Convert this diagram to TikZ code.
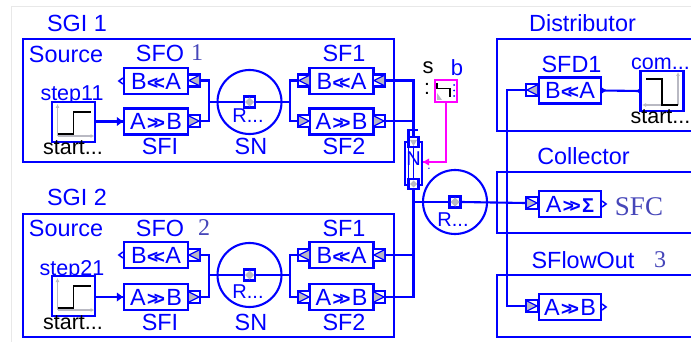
\documentclass[tikz,border=0pt]{standalone}
\usepackage{fontspec}
\setmainfont{Liberation Sans}
\newfontfamily\serifnum{Liberation Serif}
\usetikzlibrary{arrows.meta}
\definecolor{slateb}{RGB}{70,70,185}
\definecolor{pgray}{RGB}{185,185,195}
\definecolor{magw}{RGB}{255,0,255}
\tikzset{
 x=1pt,y=-1pt,
 wire/.style={blue,line width=2.1pt,line join=miter},
 frame/.style={blue,line width=2.2pt},
 lbl/.style={text=blue,inner sep=0pt,font=\fontsize{23.4}{23}\selectfont},
 lblk/.style={text=black,inner sep=0pt,font=\fontsize{21.5}{23}\selectfont},
 lbls/.style={text=blue,inner sep=0pt,font=\fontsize{21.5}{23}\selectfont},
 lblr/.style={text=blue,inner sep=0pt,font=\fontsize{20}{23}\selectfont},
 num/.style={text=slateb,inner sep=0pt,font=\serifnum\fontsize{24}{24}\selectfont},
 block/.style={draw=blue,line width=2.2pt,fill=white,minimum width=64pt,minimum height=26pt,inner sep=0pt,text=blue,font=\fontsize{23.4}{23}\selectfont},
 portbox/.style={draw=blue,line width=2.1pt,fill=white,minimum width=12pt,minimum height=12pt,inner sep=0pt},
 ring/.style={draw=blue,line width=2.1pt,circle,minimum size=64pt,inner sep=0pt},
 stepbox/.style={draw=blue,line width=2.2pt,fill=white,minimum width=43pt,minimum height=40pt,inner sep=0pt},
}
\newcommand{\LL}{{\fontsize{19}{19}\selectfont\bfseries\kern.5pt<\kern-4.5pt<\kern.5pt}}
\newcommand{\RR}{{\fontsize{19}{19}\selectfont\bfseries\kern1.5pt>\kern-4.5pt>\kern1.5pt}}
% port with triangle: name, x, y, dir (+1 apex right, -1 apex left)
\newcommand{\tport}[4]{%
 \node[portbox] (#1) at (#2,#3) {};
 \begin{scope}[shift={(#1.center)}]
  \fill[pgray] (-5*#4,-5) -- (5*#4,0) -- (-5*#4,5) -- cycle;
  \draw[blue,line width=1.2pt] (-5*#4,-5) -- (5*#4,0) -- (-5*#4,5);
 \end{scope}}
% centre port with diamond
\newcommand{\dport}[3]{%
 \node[portbox,minimum width=11pt,minimum height=11pt] (#1) at (#2,#3) {};
 \fill[pgray] (#1.center) ++(-4.5,0) -- ++(4.5,-4.5) -- ++(4.5,4.5) -- ++(-4.5,4.5) -- cycle;}
\newcommand{\intip}[1]{\fill[blue] (#1.west) ++(-6,-4.5) -- ++(6,4.5) -- ++(-6,4.5) -- cycle;}
\newcommand{\outtip}[1]{\draw[blue,line width=1.5pt,fill=white] (#1.west) ++(0,-3) -- ++(-4,3) -- ++(4,3);}
\newcommand{\outtipR}[1]{\draw[blue,line width=1.5pt,fill=white] (#1.east) ++(0,-3) -- ++(4,3) -- ++(-4,3);}
\newcommand{\stepup}[1]{%
 \begin{scope}[shift={(#1.center)}]
  \draw[pgray,line width=1.3pt,-{Latex[length=4pt,width=4pt]}] (-16,14) -- (-16,-18);
  \draw[pgray,line width=1.3pt,-{Latex[length=4pt,width=4pt]}] (-16,14) -- (21,14);
  \draw[black,line width=1.8pt] (-16,12) -- (0,12) -- (0,-10) -- (17,-10);
 \end{scope}}
\newcommand{\stepdn}[1]{%
 \begin{scope}[shift={(#1.center)}]
  \draw[pgray,line width=1.3pt,-{Latex[length=4pt,width=4pt]}] (16,14) -- (16,-19);
  \draw[pgray,line width=1.3pt,-{Latex[length=4pt,width=4pt]}] (16,14) -- (-20,14);
  \draw[black,line width=1.8pt] (-16,-12) -- (0,-12) -- (0,14) -- (16,14);
 \end{scope}}
\begin{document}
\begin{tikzpicture}
\useasboundingbox (0,0) rectangle (691,342);
\fill[white] (0,0) rectangle (691,342);
\draw[black!9,line width=1pt] (11,342) -- (11,7) -- (691,7);
% ---------- group frames
\draw[frame] (23,39) rectangle (394,162);
\draw[frame] (23,214) rectangle (394,337);
\draw[frame] (691,39) -- (497,39) -- (497,131) -- (691,131);
\draw[frame] (691,172) -- (497,172) -- (497,233) -- (691,233);
\draw[frame] (691,275) -- (497,275) -- (497,337) -- (691,337);
% ---------- titles
\node[lbl] (sgi1) at (77,23) {SGI 1};
\node[lbl] (sgi2) at (77,197) {SGI 2};
\node[lbl] (src1) at (66,54) {Source};
\node[lbl] (src2) at (66,228) {Source};
\node[lbl] (dist) at (582.5,23) {Distributor};
\node[lbl] (coll) at (583.5,156) {Collector};
\node[lbl] (sfl) at (583,260) {SFlowOut};
\node[num] (n3) at (660,260) {3};
\node[num,font=\serifnum\fontsize{27}{27}\selectfont] (sfc) at (639,207) {SFC};
% ---------- upper source
\node[lbl] (sfo1) at (160,53) {SFO};
\node[num] (n1) at (197,53) {1};
\node[lbls] (st11) at (72,95) {step11};
\node[stepbox] (s11) at (73.5,122) {};
\stepup{s11}
\node[lblk] (st11b) at (73,148) {start...};
\node[block] (bo1) at (156,81) {B\LL A};
\node[block] (bi1) at (156,121.5) {A\RR B};
\node[lbl] (sfi1) at (160,146) {SFI};
\tport{po1}{194}{80.5}{-1}
\tport{pi1}{194}{121}{1}
\outtip{bo1}
\node[ring] (sn1) at (249.5,102) {};
\dport{sp1}{249.5}{102}
\node[lblr] (r1) at (248,116) {R...};
\node[lbl] (snl1) at (251,146) {SN};
\node[lbl] (sf11) at (344,53) {SF1};
\node[lbl] (sf21) at (344,146) {SF2};
\node[block] (f11) at (341.5,81) {B\LL A};
\node[block] (f21) at (341.5,121.5) {A\RR B};
\tport{a11}{304}{80.5}{-1}
\tport{b11}{304}{121}{1}
\tport{a21}{379}{80.5}{-1}
\tport{b21}{379}{121}{1}
\coordinate (j11) at (209,102);
\coordinate (j12) at (290,102);
\draw[wire] (s11.east |- bi1) -- (bi1.west);
\intip{bi1}
\draw[wire] (po1.east) -| (j11) |- (pi1.east);
\draw[wire] (j11) -- (sp1.west);
\draw[wire] (sp1.east) -- (j12);
\draw[wire] (a11.west) -| (j12) |- (b11.west);
% ---------- lower source
\node[lbl] (sfo2) at (160,228) {SFO};
\node[num] (n2) at (204,228) {2};
\node[lbls] (st21) at (72,270) {step21};
\node[stepbox] (s21) at (73.5,296) {};
\stepup{s21}
\node[lblk] (st21b) at (73,323) {start...};
\node[block] (bo2) at (156,255) {B\LL A};
\node[block] (bi2) at (156,297) {A\RR B};
\node[lbl] (sfi2) at (160,322) {SFI};
\tport{po2}{194}{255}{-1}
\tport{pi2}{194}{297}{1}
\outtip{bo2}
\node[ring] (sn2) at (249.5,275) {};
\dport{sp2}{249.5}{275}
\node[lblr] (r2) at (248,292) {R...};
\node[lbl] (snl2) at (251,322) {SN};
\node[lbl] (sf12) at (344,228) {SF1};
\node[lbl] (sf22) at (344,322) {SF2};
\node[block] (f12) at (341.5,255) {B\LL A};
\node[block] (f22) at (341.5,297) {A\RR B};
\tport{a12}{304}{255}{-1}
\tport{b12}{304}{297}{1}
\tport{a22}{379}{255}{-1}
\tport{b22}{379}{297}{1}
\coordinate (j21) at (209,275);
\coordinate (j22) at (290,275);
\draw[wire] (s21.east |- bi2) -- (bi2.west);
\intip{bi2}
\draw[wire] (po2.east) -| (j21) |- (pi2.east);
\draw[wire] (j21) -- (sp2.west);
\draw[wire] (sp2.east) -- (j22);
\draw[wire] (a12.west) -| (j22) |- (b12.west);
% ---------- junction N
\node[draw=blue,line width=2pt,fill=white,minimum width=17pt,minimum height=43pt,inner sep=0pt] (nb) at (413.5,163.5) {};
\node[lbl,font=\fontsize{20}{20}\selectfont] (nl) at (413.5,159) {N};
\draw[blue,line width=1pt] (408.5,144) -- (408.5,183) (413.5,144) -- (413.5,180);
\node[portbox,minimum width=10pt,minimum height=10pt] (nt) at (413.5,142) {};
\fill[pgray] (nt.center) ++(-3.5,-2) -- ++(7,0) -- ++(-3.5,6) -- cycle;
\node[portbox,minimum width=10pt,minimum height=10pt] (nd) at (413.5,184) {};
\fill[pgray] (nd.center) ++(-3.5,0) -- ++(3.5,-3.5) -- ++(3.5,3.5) -- ++(-3.5,3.5) -- cycle;
\draw[wire] (408.5,136) -- (408.5,130) -- (417.5,130);
\coordinate (ntop) at (413.5,136);
\draw[wire] (a21.east) -| (ntop);
\draw[wire] (b21.east) -- (b21.east -| ntop);
\coordinate (jm) at (413.5,202);
\draw[wire] (nd.south) -- (jm) |- (b22.east);
\draw[wire] (a22.east) -- (a22.east -| jm);
\node[lbl,font=\fontsize{12}{12}\selectfont] (dotn) at (429,169) {.};
% ---------- switch
\node[draw=magw,line width=2.2pt,fill=white,minimum width=22pt,minimum height=22pt,inner sep=0pt] (sw) at (446,91) {};
\fill[pgray] (437,100) -- (437,93) -- (442,100) -- cycle;
\draw[black,line width=1.8pt] (437,83) -- (437,88.5) -- (450,88.5) -- (450,97);
\fill[blue] (454,85) circle (1pt) (454,90.5) circle (1pt) (454,96) circle (1pt);
\node[lblk,font=\fontsize{22}{22}\selectfont] (sl) at (428,68) {s};
\node[lbl,font=\fontsize{22}{22}\selectfont] (bl) at (457,68) {b};
\node[lblk,font=\fontsize{21}{21}\selectfont] (cl) at (427,89) {:};
\coordinate (magend) at (nb.east |- 0,162);
\draw[magw,line width=2.2pt] (sw.south) |- (magend);
\fill[magw] (magend) -- ++(6,-3.5) -- ++(0,7) -- cycle;
% ---------- R ring
\node[ring] (rr) at (455,202) {};
\dport{rp}{455}{202}
\node[lblr] (rl) at (453,220) {R...};
% ---------- distributor
\node[lbl] (sfd) at (571.5,64) {SFD1};
\node[block,minimum width=62pt] (d1) at (570,90.5) {B\LL A};
\tport{dp}{532}{90}{-1}
\node[stepbox] (cm) at (662,91) {};
\stepdn{cm}
\node[lbl,font=\fontsize{21.5}{23}\selectfont] (coml) at (660.5,64) {com...};
\node[lblk] (cs) at (660.5,117) {start...};
\draw[wire] (cm.west) -- (d1.east);
\fill[blue] (d1.east) ++(-1,0) ++(0,-3.5) -- ++(5,3.5) -- ++(-5,3.5) -- cycle;
\fill[blue] (cm.west) circle (2pt);
% ---------- collector and out
\node[block,minimum width=62pt] (c1) at (570,204) {A\RR{\bfseries\fontsize{20}{20}\selectfont Σ}};
\tport{cp}{532}{203}{1}
\outtipR{c1}
\node[block,minimum width=62pt] (o1) at (570,307) {A\RR B};
\tport{op}{532}{306}{1}
\outtipR{o1}
\coordinate (bend) at (507,90);
\draw[wire] (dp.west) -- (bend) |- (op.west);
\draw[wire] (jm) -- (rp.west);
\draw[wire] (rp.east) -- (cp.west);
\end{tikzpicture}
\end{document}
